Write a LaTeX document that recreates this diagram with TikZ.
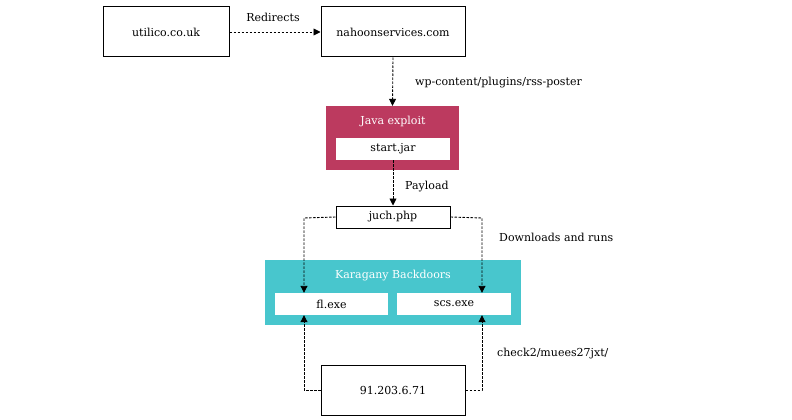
\documentclass[tikz,border=0pt]{standalone}
\usepackage{fontspec}
\setmainfont{DejaVu Serif}
\usetikzlibrary{arrows.meta}
\definecolor{javared}{HTML}{BC3A5F}
\definecolor{karateal}{HTML}{48C6CD}
\begin{document}
\begin{tikzpicture}[x=1pt,y=-1pt,
  font=\fontsize{11}{13}\selectfont,
  plain/.style={draw=black,line width=1pt,fill=white,inner sep=0pt},
  inbox/.style={fill=white,draw=none,inner sep=0pt,minimum width=114pt,minimum height=22pt},
  link/.style={dash pattern=on 2.5pt off 1.5pt,line width=0.9pt,-{Triangle[length=7pt,width=7pt]}},
  lbl/.style={inner sep=0pt}]
\useasboundingbox (0,0) rectangle (792,420);
\node[plain,minimum width=126pt,minimum height=50pt] (util) at (166,32) {utilico.co.uk};
\node[plain,minimum width=144pt,minimum height=50pt] (nahoon) at (393,32) {nahoonservices.com};
\node[fill=javared,inner sep=0pt,minimum width=133pt,minimum height=64pt] (java) at (392.5,138) {};
\node[lbl,text=white] (javat) at (393,121) {Java exploit};
\node[inbox] (start) at (393,149) {start.jar};
\node[plain,minimum width=114pt,minimum height=22pt] (juch) at (393,217) {juch.php};
\node[fill=karateal,inner sep=0pt,minimum width=256pt,minimum height=65pt] (kara) at (393,292.5) {};
\node[lbl,text=white] (karat) at (393,276) {Karagany Backdoors};
\node[inbox,minimum width=113pt] (fl) at (331.5,304) {fl.exe};
\node[inbox] (scs) at (454,304) {scs.exe};
\node[plain,minimum width=144pt,minimum height=50pt] (ip) at (393,390) {91.203.6.71};
\node[lbl] (redir) at (273,17) {Redirects};
\node[lbl,anchor=west] (wp) at (415,83) {wp-content/plugins/rss-poster};
\node[lbl,anchor=west] (pay) at (405,187) {Payload};
\node[lbl,anchor=west] (dl) at (499,237) {Downloads and runs};
\node[lbl,anchor=west] (chk) at (497,354) {check2/muees27jxt/};
\coordinate (jl) at (304,218);
\coordinate (jr) at (482,218);
\coordinate (il) at (304,390);
\coordinate (ir) at (482,390);
\draw[link] (util) -- (nahoon);
\draw[link] (nahoon.south) -- (java.north);
\draw[link] (start.south) -- (juch.north);
\draw[link] (juch.west) -- (jl) -- (fl.north -| jl);
\draw[link] (juch.east) -- (jr) -- (scs.north -| jr);
\draw[link] (ip.west) -- (il) -- (fl.south -| il);
\draw[link] (ip.east) -- (ir) -- (scs.south -| ir);
\end{tikzpicture}
\end{document}
